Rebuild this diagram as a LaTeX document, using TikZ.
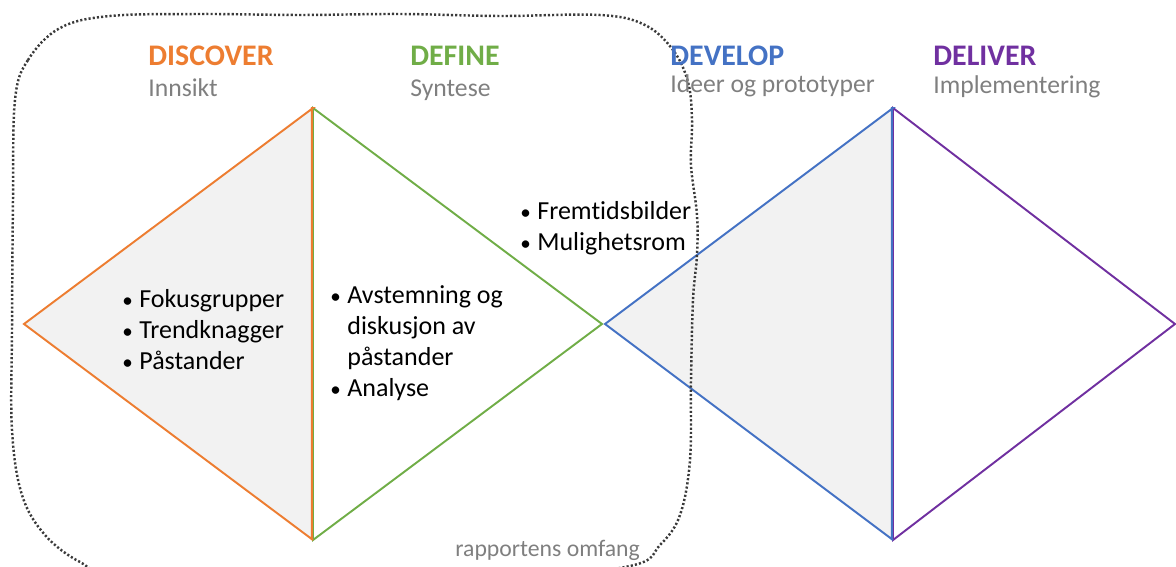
\documentclass[tikz,border=0pt]{standalone}
\usepackage{fontspec}
\setmainfont{Carlito}[Ligatures=NoCommon]
\usepackage{xcolor}

\definecolor{discover}{HTML}{ED7D31}
\definecolor{define}{HTML}{70AD47}
\definecolor{develop}{HTML}{4472C4}
\definecolor{deliver}{HTML}{7030A0}
\definecolor{subgray}{HTML}{7F7F7F}
\definecolor{halffill}{HTML}{F2F2F2}
\definecolor{scopegray}{HTML}{3A3A3A}

\tikzset{
  phase/.style={anchor=base west, inner sep=0pt, font=\fontsize{17pt}{20pt}\selectfont\bfseries},
  subtitle/.style={anchor=base west, inner sep=0pt, text=subgray, font=\fontsize{14.6pt}{18pt}\selectfont},
  items/.style={anchor=base west, inner sep=0pt, font=\fontsize{14.8pt}{17.6pt}\selectfont},
  side/.style={line width=1.1pt, line join=miter},
}

% small round bullet followed by its text
\newcommand{\dotitem}{{\fontsize{12pt}{12pt}\selectfont •}}
\newcommand{\bulletlist}[1]{\begin{tabular}[t]{@{}l@{\hspace{0.25em}}l@{}}#1\end{tabular}}

\begin{document}
\begin{tikzpicture}[x=0.02cm, y=-0.02cm]
        \useasboundingbox (0,0) rectangle (1176,567);
        \clip (0,0) rectangle (1176,567);

        % Left diamond
        \coordinate (A1) at (24, 324);   % Left tip
        \coordinate (A2) at (313, 108);  % Top
        \coordinate (A3) at (602, 324);  % Right tip
        \coordinate (A4) at (313, 540);  % Bottom

        % Right diamond
        \coordinate (B1) at (605, 324);  % Left tip
        \coordinate (B2) at (893, 108);  % Top
        \coordinate (B3) at (1175, 324); % Right tip
        \coordinate (B4) at (893, 540);  % Bottom

        % Shade the diverging halves
        \fill[halffill] (A1) -- (A2) -- (A4) -- cycle;
        \fill[halffill] (B1) -- (B2) -- (B4) -- cycle;

        % Outline of the halves
        \draw[side, define] (A2) -- (A3) -- (A4) -- cycle;
        \draw[side, discover] (A4) -- (A1) -- (A2) -- ([xshift=-0.6pt]A2) -- ([xshift=-0.6pt]A4);
        \draw[side, deliver] (B2) -- (B3) -- (B4) -- cycle;
        \draw[side, develop] (B4) -- (B1) -- (B2) -- ([xshift=-0.6pt]B2) -- ([xshift=-0.6pt]B4);

        % Dotted scope outline
        \draw[scopegray, line width=1.4pt, dash pattern=on 1.2pt off 1.2pt]
            plot[smooth cycle, tension=0.6] coordinates {
            (15,100) (28,60) (60,28) (110,16) (200,14) (300,15) (400,14)
            (500,16) (600,15) (645,25) (673,50) (688,82) (692,120)
            (691,165) (697,215) (697,255) (693,300) (691,380) (690,460)
            (680,515) (660,545) (630,566) (500,580) (300,582) (120,574)
            (80,562) (45,535) (22,495) (12,430) (12,330) (13,200)};

        % Phase headings
        \node[phase, discover] (discover) at (148, 66) {DISCOVER};
        \node[subtitle] (innsikt) at (148, 97) {Innsikt};
        \node[phase, define] (define) at (410, 66) {DEFINE};
        \node[subtitle] (syntese) at (410, 97) {Syntese};
        \node[phase, develop] (develop) at (670, 66) {DEVELOP};
        \node[subtitle] (ideer) at (670, 93) {Ideer og prototyper};
        \node[phase, deliver] (deliver) at (933, 66) {DELIVER};
        \node[subtitle] (impl) at (933, 94) {Implementering};

        % Activities
        \node[items] (fokus) at (122, 308)
            {\bulletlist{\dotitem & Fokusgrupper\\ \dotitem & Trendknagger\\ \dotitem & Påstander}};
        \node[items] (avstemning) at (330, 304)
            {\bulletlist{\dotitem & Avstemning og\\ & diskusjon av\\ & påstander\\ \dotitem & Analyse}};
        \node[items] (fremtid) at (520, 220)
            {\bulletlist{\dotitem & Fremtidsbilder\\ \dotitem & Mulighetsrom}};

        % Scope label
        \node[anchor=base west, inner sep=0pt, text=subgray, font=\fontsize{13.5pt}{15pt}\selectfont]
            (omfang) at (455, 556) {rapportens omfang};
\end{tikzpicture}
\end{document}
